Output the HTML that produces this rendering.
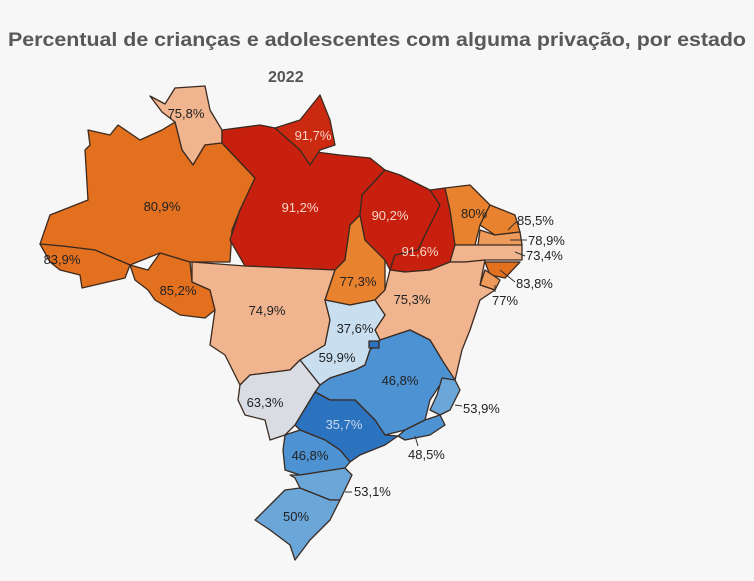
<!DOCTYPE html>
<html><head><meta charset="utf-8"><style>
body{margin:0;background:#f7f7f7;width:754px;height:576px;overflow:hidden;font-family:"Liberation Sans",sans-serif}
</style></head><body>
<svg width="754" height="576" viewBox="0 0 754 576" xmlns="http://www.w3.org/2000/svg">
<rect width="754" height="576" fill="#f7f7f7"/>
<text x="8" y="46" font-size="19.5" font-weight="bold" fill="#585858" font-family="Liberation Sans Narrow, Liberation Sans, sans-serif" textLength="738" lengthAdjust="spacingAndGlyphs">Percentual de crianças e adolescentes com alguma privação, por estado</text>
<text x="268" y="82" font-size="16" font-weight="bold" fill="#555">2022</text>
<g stroke="#3a2a20" stroke-width="1.3" stroke-linejoin="round">
<polygon fill="#f0b48f" points="150,96 165,104 175,88 205,86 210,110 222,130 222,143 205,145 193,165 182,150 175,122 162,112"/>
<polygon fill="#e3701f" points="88,130 90,145 85,150 88,200 50,215 40,244 62,246 95,250 130,265 160,253 190,262 230,262 232,230 240,210 255,178 222,143 205,145 193,165 182,150 175,122 162,130 140,140 118,125 110,135"/>
<polygon fill="#e3701f" points="40,244 50,262 60,270 80,275 82,288 125,278 130,265 95,250 62,246"/>
<polygon fill="#e3701f" points="130,265 148,270 160,253 190,262 192,282 210,290 215,310 205,318 180,315 155,300 148,290 135,280"/>
<polygon fill="#c8200e" points="222,130 260,125 275,128 300,150 340,155 370,158 385,170 362,195 360,215 350,225 345,260 335,270 245,266 230,240 240,210 255,178 222,143"/>
<polygon fill="#cc2a10" points="275,128 300,120 320,95 330,120 335,145 320,150 310,165 300,150"/>
<polygon fill="#f0b48f" points="192,262 245,266 335,270 325,300 330,320 325,345 300,360 290,370 250,375 240,385 225,355 210,345 215,310 210,290 192,282"/>
<polygon fill="#e9822f" points="350,225 360,215 365,240 385,260 385,290 375,300 350,305 325,300 335,270 345,260"/>
<polygon fill="#c8200e" points="385,170 400,175 430,190 440,205 425,235 418,250 395,255 390,270 385,260 365,240 360,215 362,195"/>
<polygon fill="#c8200e" points="430,190 445,188 450,210 455,245 450,262 430,270 405,272 390,270 395,255 418,250 425,235 440,205"/>
<polygon fill="#e9822f" points="445,188 470,185 490,205 480,225 475,245 455,245 450,210"/>
<polygon fill="#e9822f" points="490,205 515,215 520,232 495,235 480,225"/>
<polygon fill="#ee9a5a" points="480,230 495,235 520,232 522,245 490,248 478,245"/>
<polygon fill="#f0b48f" points="455,245 478,245 522,245 522,260 485,260 465,262 450,262"/>
<polygon fill="#e3701f" points="485,262 520,262 505,278 490,275"/>
<polygon fill="#ee9a5a" points="485,270 500,280 495,290 480,285"/>
<polygon fill="#f0b48f" points="385,290 390,270 405,272 430,270 450,262 465,262 485,260 480,285 495,290 480,300 470,330 462,350 455,380 440,378 442,360 430,340 410,330 395,335 380,340 375,330 385,315 375,300"/>
<polygon fill="#c9dff0" points="325,300 350,305 375,300 385,315 375,330 380,340 370,350 365,365 355,370 330,378 320,385 300,360 325,345 330,320"/>
<polygon fill="#4d93d3" points="380,340 395,335 410,330 430,340 442,360 455,380 440,385 430,400 425,420 405,430 385,435 375,420 355,400 330,400 315,392 320,385 330,378 355,370 365,365 370,350"/>
<rect x="369" y="341" width="10" height="7" fill="#2c73bf"/>
<polygon fill="#6aa6d8" points="442,378 455,380 460,390 450,410 440,415 430,410 437,395"/>
<polygon fill="#4d93d3" points="425,420 440,415 445,425 430,435 405,440 398,436 405,430"/>
<polygon fill="#2c73bf" points="315,392 330,400 355,400 375,420 385,435 398,436 385,445 360,455 350,462 340,450 325,440 300,430 295,425"/>
<polygon fill="#d9dde3" points="240,385 250,375 290,370 300,360 320,385 315,392 295,425 285,435 270,440 265,420 245,415 238,400"/>
<polygon fill="#4d93d3" points="285,435 300,430 325,440 340,450 350,462 345,468 300,475 285,470 283,450"/>
<polygon fill="#6aa6d8" points="290,475 300,475 345,468 352,475 340,500 330,500 300,488 295,478"/>
<polygon fill="#6aa6d8" points="300,488 330,500 340,500 330,520 310,540 295,560 290,545 270,530 255,520 270,505 285,490"/>
</g>
<g stroke="#333" stroke-width="1">
<line x1="508" y1="230" x2="517" y2="221"/><line x1="510" y1="240" x2="527" y2="240"/><line x1="515" y1="252" x2="525" y2="256"/>
<line x1="500" y1="270" x2="515" y2="282"/><line x1="495" y1="285" x2="495" y2="292"/>
<line x1="455" y1="405" x2="462" y2="406"/><line x1="415" y1="436" x2="418" y2="446"/><line x1="345" y1="492" x2="352" y2="492"/>
</g>
<g font-size="13" fill="#222" font-family="Liberation Sans Narrow, Liberation Sans, sans-serif" text-anchor="middle">
<text x="186" y="118">75,8%</text><text x="162" y="211">80,9%</text><text x="62" y="264">83,9%</text><text x="178" y="295">85,2%</text>
<text x="267" y="315">74,9%</text><text x="358" y="286">77,3%</text><text x="412" y="304">75,3%</text><text x="474" y="218">80%</text>
<text x="355" y="333">37,6%</text><text x="337" y="362">59,9%</text><text x="400" y="385">46,8%</text><text x="265" y="407">63,3%</text>
<text x="310" y="460">46,8%</text><text x="296" y="521">50%</text>
<g text-anchor="start"><text x="517" y="225">85,5%</text><text x="528" y="245">78,9%</text><text x="526" y="260">73,4%</text><text x="516" y="288">83,8%</text><text x="492" y="305">77%</text>
<text x="463" y="413">53,9%</text><text x="408" y="459">48,5%</text><text x="354" y="496">53,1%</text></g>
</g>
<g font-size="13" fill="#f6d6c8" font-family="Liberation Sans Narrow, Liberation Sans, sans-serif" text-anchor="middle">
<text x="313" y="140">91,7%</text><text x="300" y="212">91,2%</text><text x="390" y="220">90,2%</text><text x="420" y="256">91,6%</text>
<text fill="#c8d8ee" x="344" y="429">35,7%</text>
</g>
</svg>
</body></html>
